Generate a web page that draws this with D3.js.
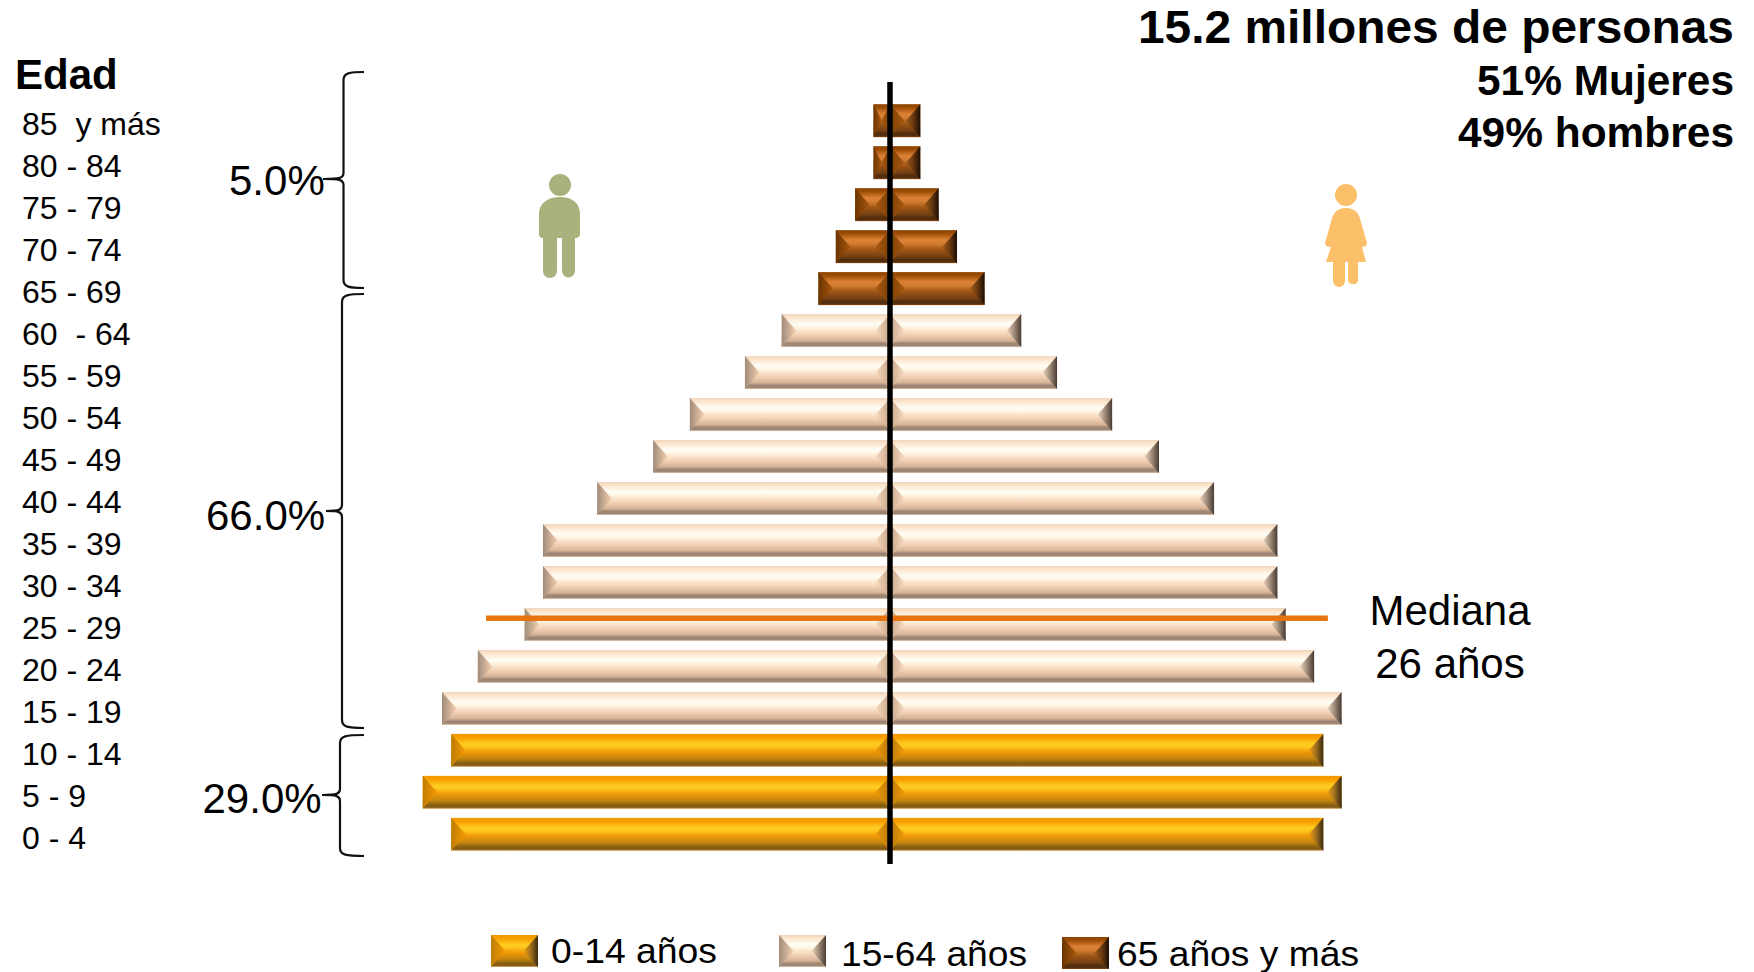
<!DOCTYPE html>
<html><head><meta charset="utf-8">
<style>html,body{margin:0;padding:0;background:#fff;overflow:hidden}svg{display:block}text{font-family:"Liberation Sans",Arial,sans-serif;fill:#000;white-space:pre}</style>
<script src="https://cdn.jsdelivr.net/npm/d3@7/dist/d3.min.js"></script></head><body>
<script>
const ageLabels=["85  y más","80 - 84","75 - 79","70 - 74","65 - 69","60  - 64","55 - 59","50 - 54","45 - 49","40 - 44","35 - 39","30 - 34","25 - 29","20 - 24","15 - 19","10 - 14","5 - 9","0 - 4"];
const maleShare=[0.18,0.18,0.38,0.59,0.78,1.18,1.58,2.18,2.58,3.19,3.78,3.78,3.98,4.49,4.88,4.78,5.09,4.78];
const femaleShare=[0.33,0.33,0.53,0.73,1.03,1.43,1.82,2.42,2.93,3.53,4.22,4.22,4.31,4.62,4.92,4.72,4.92,4.72];
const groupOf=["old","old","old","old","old","adult","adult","adult","adult","adult","adult","adult","adult","adult","adult","young","young","young"];
const legendLabels=["0-14 años","15-64 años","65 años y más"];
const groupPct=["5.0%","66.0%","29.0%"];
const headline=["15.2 millones de personas","51% Mujeres","49% hombres"];
const medianLabel=["Mediana","26 años"];
const medianSpan=[-4.40,4.77];

const W=1754,H=972;
const svg=d3.select("body").append("svg").attr("width",W).attr("height",H).attr("viewBox",`0 0 ${W} ${H}`);
const defs=svg.append("defs");
const x=d3.scaleLinear().domain([-6,6]).range([890-6*91.8,890+6*91.8]);
const y=d3.scaleBand().domain(ageLabels).range([99.7,99.7+18*41.98]).paddingInner(0.214).paddingOuter(0.107);

const tex={
 young:{v:[[0,"#f29700"],[.12,"#f7a000"],[.3,"#ffcc22"],[.38,"#ffc81e"],[.55,"#f09a08"],[.75,"#c48510"],[.88,"#8a6010"],[.95,"#7e5a14"],[1,"#e8b070"]],
        l:["#c07c00","#f59a08"],r:["#3a2a10","#a07020","#f0a010"],il:["#b87a08","#f09a08"]},
 adult:{v:[[0,"#f0d4bc"],[.08,"#fbe2c8"],[.3,"#fffdf5"],[.4,"#fff5e4"],[.6,"#f5d5b8"],[.8,"#d8b498"],[.9,"#9a8270"],[.96,"#a08a78"],[1,"#e6caaf"]],
        l:["#a08c7a","#f5cfb0"],r:["#4a3c34","#a08c7a","#f0d8c0"],il:["#c8a488","#f8dcc2"]},
 old:{v:[[0,"#8c4400"],[.1,"#9c4c04"],[.3,"#dd8236"],[.42,"#d07a30"],[.6,"#9c5414"],[.8,"#744012"],[.9,"#4e2c0e"],[.97,"#5a3210"],[1,"#a05010"]],
        l:["#6a3400","#a8580e"],r:["#1c0e04","#6a3a10","#a05a18"],il:["#7a4008","#a8580e"]}
};
Object.entries(tex).forEach(([k,t])=>{
  const gv=defs.append("linearGradient").attr("id","v-"+k).attr("x1",0).attr("x2",0).attr("y1",0).attr("y2",1);
  t.v.forEach(s=>gv.append("stop").attr("offset",s[0]).attr("stop-color",s[1]));
  const gl=defs.append("linearGradient").attr("id","l-"+k);
  t.l.forEach((c,i)=>gl.append("stop").attr("offset",i/(t.l.length-1)).attr("stop-color",c));
  const gr=defs.append("linearGradient").attr("id","r-"+k).attr("x1",1).attr("x2",0);
  t.r.forEach((c,i)=>gr.append("stop").attr("offset",i/(t.r.length-1)).attr("stop-color",c));
  const gil=defs.append("linearGradient").attr("id","il-"+k);
  t.il.forEach((c,i)=>gil.append("stop").attr("offset",i).attr("stop-color",c));
  const gir=defs.append("linearGradient").attr("id","ir-"+k).attr("x1",1).attr("x2",0);
  t.il.forEach((c,i)=>gir.append("stop").attr("offset",i).attr("stop-color",c));
});

function bevel(g,x0,x1,y0,h,k,leftFill,rightFill){
  const w=x1-x0, d=Math.min(14.5,w/2), m=y0+h/2;
  g.append("rect").attr("x",x0).attr("y",y0).attr("width",w).attr("height",h).attr("fill",`url(#v-${k})`);
  g.append("polygon").attr("points",`${x0},${y0} ${x0+d},${m} ${x0},${y0+h}`).attr("fill",`url(#${leftFill||"l"}-${k})`);
  g.append("polygon").attr("points",`${x1},${y0} ${x1-d},${m} ${x1},${y0+h}`).attr("fill",`url(#${rightFill||"r"}-${k})`);
}

const bars=svg.append("g");
ageLabels.forEach((a,i)=>{
  bevel(bars,x(-maleShare[i]),x(0),y(a),y.bandwidth(),groupOf[i],"l","ir");
  bevel(bars,x(0),x(femaleShare[i]),y(a),y.bandwidth(),groupOf[i],"il","r");
});

// median line and centre axis
const medY=y("25 - 29")+y.bandwidth()*0.31;
svg.append("line").attr("x1",x(medianSpan[0])).attr("x2",x(medianSpan[1])).attr("y1",medY).attr("y2",medY)
  .attr("stroke","#e8740e").attr("stroke-width",5.5);
svg.append("line").attr("x1",x(0)).attr("x2",x(0)).attr("y1",82).attr("y2",864).attr("stroke","#000").attr("stroke-width",5.5);

// age labels
svg.append("g").selectAll("text").data(ageLabels).join("text")
  .attr("x",22).attr("y",d=>y(d)+y.bandwidth()/2+14.5).attr("font-size",32).text(d=>d);
svg.append("text").attr("x",15).attr("y",89).attr("font-size",42).attr("font-weight","bold").text("Edad");

// headline
[[0,43,46,596],[1,95,42,257],[2,147,42,276]].forEach(([i,by,fs,tl])=>{
  svg.append("text").attr("x",1734).attr("y",by).attr("text-anchor","end").attr("font-size",fs).attr("font-weight","bold")
    .attr("textLength",tl).attr("lengthAdjust","spacingAndGlyphs").text(headline[i]);
});

// braces
function brace(sp,right,top,bot,tip,tipX){
  return `M${right},${top} C${sp+6},${top} ${sp},${top+1} ${sp},${top+8} L${sp},${tip-6} C${sp},${tip-1} ${sp-3},${tip} ${tipX},${tip} `+
         `C${sp-3},${tip} ${sp},${tip+1} ${sp},${tip+6} L${sp},${bot-8} C${sp},${bot-1} ${sp+6},${bot} ${right},${bot}`;
}
[[343.5,364,72,288,179,323],[342,364,294,728,511,326],[340,364,735,856,795,322]].forEach(b=>{
  svg.append("path").attr("d",brace(...b)).attr("fill","none").attr("stroke","#111").attr("stroke-width",2.2);
});
[[229,195],[206,530],[202.5,813]].forEach((p,i)=>{
  svg.append("text").attr("x",p[0]).attr("y",p[1]).attr("font-size",42).text(groupPct[i]);
});

// median annotation
svg.append("text").attr("x",1450).attr("y",625).attr("text-anchor","middle").attr("font-size",42).text(medianLabel[0]);
svg.append("text").attr("x",1450).attr("y",678).attr("text-anchor","middle").attr("font-size",42).text(medianLabel[1]);

// legend
[[491,935,"young"],[779,935,"adult"],[1062,937,"old"]].forEach(s=>bevel(svg.append("g"),s[0],s[0]+47,s[1],32,s[2]));
[[551,963,166],[841,966,186],[1117,966,242]].forEach((p,i)=>{
  svg.append("text").attr("x",p[0]).attr("y",p[1]).attr("font-size",35).attr("textLength",p[2]).attr("lengthAdjust","spacingAndGlyphs").text(legendLabels[i]);
});

// figures
const man=svg.append("g").attr("fill","#a9b17d");
man.append("circle").attr("cx",560).attr("cy",185).attr("r",11);
man.append("path").attr("d","M539,214 C539,203 548,197 560,197 C572,197 580,203 580,214 L580,234 Q580,238 575,238 L575,271 A6.5,6.5 0 0 1 562,271 L562,238 L557,238 L557,271 A7,7 0 0 1 543,271 L543,238 Q539,238 539,234 Z");
const woman=svg.append("g").attr("fill","#fdc06a");
woman.append("circle").attr("cx",1346).attr("cy",195).attr("r",11);
woman.append("path").attr("d","M1346,208 C1355,208 1359,213 1361,222 L1367,243 Q1367,247 1362,247 L1366,262 L1358,262 L1358,281 A5.5,5.5 0 0 1 1348,281 L1348,262 L1345,262 L1345,281 A6,6 0 0 1 1333,281 L1333,262 L1326,262 L1331,247 Q1325,247 1325,243 L1331,222 C1333,213 1337,208 1346,208 Z");
</script></body></html>
